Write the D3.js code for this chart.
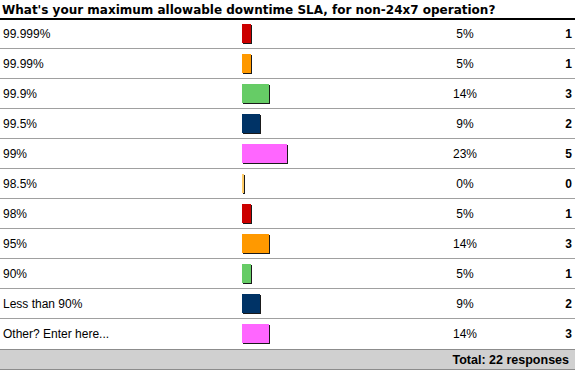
<!DOCTYPE html>
<html>
<head>
<meta charset="utf-8">
<script src="https://cdn.jsdelivr.net/npm/d3@7"></script>
<style>
  body { margin: 0; background: #fff; }
  text { font-family: "Liberation Sans", Arial, sans-serif; }
</style>
</head>
<body>
<script>
/* DATA */
const title = "What's your maximum allowable downtime SLA, for non-24x7 operation?";
const answers = ["99.999%", "99.99%", "99.9%", "99.5%", "99%", "98.5%", "98%", "95%", "90%", "Less than 90%", "Other? Enter here..."];
const counts = [1, 1, 3, 2, 5, 0, 1, 3, 1, 2, 3];
const percents = ["5%", "5%", "14%", "9%", "23%", "0%", "5%", "14%", "5%", "9%", "14%"];
const totalLabel = "Total: 22 responses";
const palette = ["#cc0000", "#ff9900", "#66cc66", "#003366", "#ff66ff", "#ffcc66"];

/* CONSTANTS */
const width = 575;
const height = 373;
const tableTop = 19;
const rowH = 30;
const barX = 242;

const data = answers.map((a, i) => ({ answer: a, count: counts[i], pct: percents[i] }));

const svg = d3.select("body").append("svg")
    .attr("width", width)
    .attr("height", height);

// y scale - one band per answer
const y = d3.scaleBand()
    .domain(answers)
    .range([tableTop, tableTop + rowH * answers.length]);

// x scale for bar length
const x = d3.scaleLinear()
    .domain([0, 22])
    .range([0, 198]);

// title (wide verdana-like face)
svg.append("text")
    .attr("x", 2)
    .attr("y", 14)
    .attr("font-size", 12)
    .attr("font-weight", "bold")
    .style("font-family", "'DejaVu Sans', Verdana, sans-serif")
    .attr("fill", "#000")
    .text(title);

// row separators
svg.selectAll(".sep")
    .data(answers.slice(0, -1))
    .enter()
    .append("line")
    .attr("x1", 0)
    .attr("x2", width)
    .attr("y1", d => y(d) + rowH - 0.5)
    .attr("y2", d => y(d) + rowH - 0.5)
    .attr("stroke", "#a0a0a0");

// footer
const footY = tableTop + rowH * answers.length;
svg.append("rect")
    .attr("x", 0)
    .attr("y", footY)
    .attr("width", width)
    .attr("height", 20)
    .attr("fill", "#d0d0d0");
svg.append("line")
    .attr("x1", 0).attr("x2", width)
    .attr("y1", footY + 0.5).attr("y2", footY + 0.5)
    .attr("stroke", "#8c8c8c");
svg.append("line")
    .attr("x1", 0).attr("x2", width)
    .attr("y1", footY + 20.5).attr("y2", footY + 20.5)
    .attr("stroke", "#8c8c8c");

// header line (black, thick)
svg.append("line")
    .attr("x1", 0).attr("x2", width)
    .attr("y1", tableTop).attr("y2", tableTop)
    .attr("stroke", "#000")
    .attr("stroke-width", 2);

// bar shadows
svg.selectAll(".shadow")
    .data(data)
    .enter()
    .append("rect")
    .attr("x", barX + 1)
    .attr("y", d => y(d.answer) + 6)
    .attr("width", d => Math.max(2, x(d.count)))
    .attr("height", 19)
    .attr("fill", "#1a1a1a");

// bars
svg.selectAll(".bar")
    .data(data)
    .enter()
    .append("rect")
    .attr("class", "bar")
    .attr("x", barX)
    .attr("y", d => y(d.answer) + 5)
    .attr("width", d => Math.max(2, x(d.count)))
    .attr("height", 19)
    .attr("fill", (d, i) => palette[i % palette.length]);

// answer labels
svg.selectAll(".lbl")
    .data(data)
    .enter()
    .append("text")
    .attr("x", 3)
    .attr("y", d => y(d.answer) + 19)
    .attr("font-size", 12)
    .attr("fill", "#000")
    .text(d => d.answer);

// percentages
svg.selectAll(".pct")
    .data(data)
    .enter()
    .append("text")
    .attr("x", 465)
    .attr("y", d => y(d.answer) + 19)
    .attr("text-anchor", "middle")
    .attr("font-size", 12)
    .attr("fill", "#000")
    .text(d => d.pct);

// counts
svg.selectAll(".cnt")
    .data(data)
    .enter()
    .append("text")
    .attr("x", 572)
    .attr("y", d => y(d.answer) + 19)
    .attr("text-anchor", "end")
    .attr("font-size", 12)
    .attr("font-weight", "bold")
    .attr("fill", "#000")
    .text(d => d.count);

// total
svg.append("text")
    .attr("x", 569)
    .attr("y", footY + 15)
    .attr("text-anchor", "end")
    .attr("font-size", 12.5)
    .attr("font-weight", "bold")
    .attr("fill", "#000")
    .text(totalLabel);
</script>
</body>
</html>
